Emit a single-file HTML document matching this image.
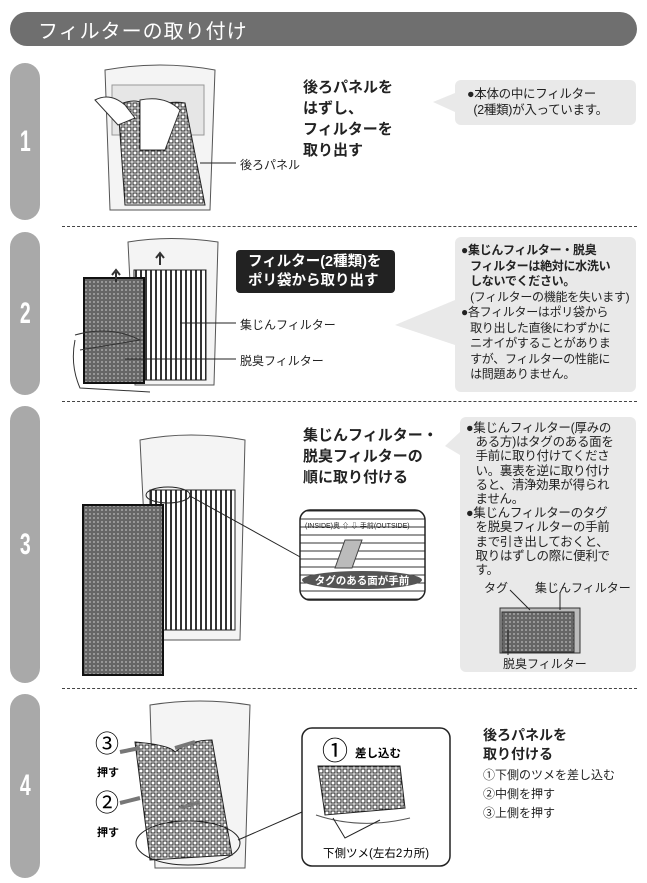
<!DOCTYPE html>
<html><head><meta charset="utf-8"><style>
*{margin:0;padding:0;box-sizing:border-box}
body{width:647px;height:883px;background:#fff;position:relative;overflow:hidden;font-family:"Liberation Sans","Noto Sans CJK JP",sans-serif;color:#222}
.a{position:absolute;z-index:3}
.hdr{left:10px;top:12px;width:627px;height:34px;background:#6f6f6f;border-radius:17px;color:#fff;font-size:20px;padding:3px 0 0 28px;letter-spacing:1px}
.tab{left:10px;width:30px;background:#a9a9a9;border-radius:15px;color:#fff;font-size:30px;font-weight:bold;text-align:center;display:flex;align-items:center;justify-content:center}
.tab span{display:inline-block;transform:scaleX(0.65)}
.dash{left:62px;width:575px;border-top:1px dashed #444}
.h{font-size:15px;font-weight:bold;line-height:21px}
.box{background:#e9e9e9;border-radius:6px;font-size:12px;line-height:16px;white-space:nowrap;letter-spacing:-0.3px}
.bg{z-index:1}
.t12{font-size:12px;white-space:nowrap}
svg{z-index:2}
</style></head><body>
<div class="a hdr">フィルターの取り付け</div>

<div class="a tab" style="top:63px;height:157px"><span>1</span></div>
<div class="a tab" style="top:232px;height:163px"><span>2</span></div>
<div class="a tab" style="top:406px;height:277px"><span>3</span></div>
<div class="a tab" style="top:694px;height:184px"><span>4</span></div>

<div class="a dash" style="top:226px"></div>
<div class="a dash" style="top:401px"></div>
<div class="a dash" style="top:688px"></div>

<div class="a box bg" style="left:455px;top:80px;width:181px;height:45px"></div>
<div class="a box bg" style="left:455px;top:237px;width:181px;height:155px"></div>
<div class="a box bg" style="left:460px;top:417px;width:176px;height:255px"></div>

<svg class="a" style="left:0;top:0" width="647" height="883">
<defs>
<pattern id="g" width="6" height="6" patternUnits="userSpaceOnUse"><rect width="6" height="6" fill="#fff"/><rect x="1" y="1" width="4" height="4" fill="none" stroke="#222" stroke-width="1"/></pattern>
<pattern id="d" width="4" height="4" patternUnits="userSpaceOnUse"><rect width="4" height="4" fill="#666"/><circle cx="2" cy="2" r="0.9" fill="#bbb"/></pattern>
<pattern id="s" width="5" height="5" patternUnits="userSpaceOnUse"><rect width="5" height="5" fill="#fff"/><rect x="0" y="0" width="2" height="5" fill="#333"/></pattern>
<pattern id="ln" width="8" height="8" patternUnits="userSpaceOnUse"><rect width="8" height="8" fill="#fff"/><line x1="0" y1="7" x2="8" y2="7" stroke="#333" stroke-width="1"/></pattern>
</defs>
<path d="M105 70 Q160 60 215 70 L210 210 L110 210 Z" fill="#f4f4f4" stroke="#555"/>
<rect x="112" y="85" width="92" height="50" fill="#e6e6e6" stroke="#999"/>
<path d="M118 105 Q140 95 150 110 Q165 100 185 103 L205 205 L125 205 Z" fill="url(#g)" stroke="#222"/>
<path d="M95 100 Q110 92 125 105 L135 118 L118 125 Z" fill="#fff" stroke="#333"/>
<path d="M140 100 Q165 95 180 110 L165 150 L140 150 Z" fill="#fff" stroke="#333"/>
<line x1="200" y1="163" x2="236" y2="163" stroke="#222"/>
<path d="M455 93 L433 102 L455 112 Z" fill="#e9e9e9"/>
<path d="M455 300 L395 325 L455 345 Z" fill="#e9e9e9"/>
<path d="M460 432 L445 446 L460 455 Z" fill="#e9e9e9"/>
<path d="M128 242 Q170 235 218 242 L214 385 L135 385 Z" fill="#f4f4f4" stroke="#555"/>
<rect x="134" y="270" width="72" height="110" fill="url(#s)" stroke="#222"/>
<rect x="84" y="278" width="60" height="105" fill="url(#d)" stroke="#111" stroke-width="2"/>
<path d="M75 335 Q110 325 140 340 Q110 345 80 350" fill="none" stroke="#333"/>
<path d="M75 340 Q70 365 80 388 L150 392" fill="none" stroke="#333"/>
<path d="M116 282 L116 272 M112 275 L116 270 L120 275 M160 265 L160 254 M156 258 L160 253 L164 258" stroke="#333" stroke-width="2" fill="none"/>
<line x1="180" y1="323" x2="236" y2="323" stroke="#222"/>
<line x1="125" y1="359" x2="236" y2="359" stroke="#222"/>
<path d="M140 440 Q190 430 245 440 L240 640 L150 640 Z" fill="#f4f4f4" stroke="#555"/>
<rect x="150" y="490" width="85" height="140" fill="url(#s)" stroke="#222"/>
<rect x="83" y="505" width="80" height="170" fill="url(#d)" stroke="#111" stroke-width="2"/>
<ellipse cx="168" cy="495" rx="22" ry="8" fill="none" stroke="#222"/>
<line x1="190" y1="496" x2="302" y2="558" stroke="#222"/>
<rect x="300" y="510" width="125" height="90" rx="10" fill="url(#ln)" stroke="#222" stroke-width="1.5"/>
<polygon points="345,540 362,540 352,568 335,568" fill="#bbb" stroke="#444"/>
<text x="305" y="528" font-size="7" fill="#222">(INSIDE)奥 ⇧ ⇩ 手前(OUTSIDE)</text>
<ellipse cx="362" cy="580" rx="60" ry="9" fill="#555"/>
<text x="362" y="584" font-size="10.5" font-weight="bold" fill="#fff" text-anchor="middle">タグのある面が手前</text>
<rect x="500" y="608" width="80" height="45" fill="#bbb" stroke="#333"/>
<rect x="502" y="612" width="72" height="40" fill="url(#d)" stroke="#333"/>
<line x1="510" y1="590" x2="530" y2="610" stroke="#222"/>
<line x1="560" y1="592" x2="560" y2="610" stroke="#222"/>
<line x1="508" y1="630" x2="508" y2="655" stroke="#222"/>
<path d="M150 705 Q200 697 250 705 L245 868 L155 868 Z" fill="#f4f4f4" stroke="#555"/>
<path d="M135 742 Q170 745 175 752 Q190 740 212 740 L232 855 L150 860 Z" fill="url(#g)" stroke="#222"/>
<ellipse cx="188" cy="843" rx="52" ry="22" fill="none" stroke="#222"/>
<line x1="238" y1="840" x2="302" y2="812" stroke="#222"/>
<path d="M120 752 L140 748 M120 803 L140 798 M175 748 L195 742 M180 808 L200 802" stroke="#777" stroke-width="4"/>
<text x="95" y="752" font-size="24">③</text>
<text x="95" y="811" font-size="24">②</text>
<text x="97" y="776" font-size="11" font-weight="bold">押す</text>
<text x="97" y="836" font-size="11" font-weight="bold">押す</text>
<rect x="302" y="728" width="148" height="138" rx="10" fill="#fff" stroke="#222" stroke-width="1.5"/>
<path d="M318 766 L400 766 L405 808 L325 815 Z" fill="url(#g)" stroke="#222"/>
<path d="M316 815 Q360 830 410 818" fill="none" stroke="#555"/>
<path d="M333 818 L345 838 L380 820" fill="none" stroke="#222"/>
<text x="322" y="760" font-size="26">①</text>
<text x="355" y="757" font-size="11.5" font-weight="bold">差し込む</text>
<text x="323" y="857" font-size="11.5">下側ツメ(左右2カ所)</text>
</svg>

<div class="a h" style="left:303px;top:77px">後ろパネルを<br>はずし、<br>フィルターを<br>取り出す</div>
<div class="a t12" style="left:240px;top:156px">後ろパネル</div>
<div class="a box" style="left:455px;top:80px;width:181px;height:45px;padding:6px 0 0 12px;background:none;font-size:12.5px">●本体の中にフィルター<br>&nbsp;&nbsp;(2種類)が入っています。</div>

<div class="a" style="left:236px;top:250px;width:159px;height:43px;background:#222;border-radius:4px;color:#fff;font-weight:bold;font-size:14.5px;line-height:19px;padding:3px 0 0 12px;white-space:nowrap">フィルター(2種類)を<br>ポリ袋から取り出す</div>
<div class="a t12" style="left:240px;top:316px">集じんフィルター</div>
<div class="a t12" style="left:240px;top:352px">脱臭フィルター</div>
<div class="a box" style="left:455px;top:237px;width:181px;height:155px;padding:6px 0 0 6px;background:none;line-height:15.5px"><b>●集じんフィルター・脱臭<br>&nbsp;&nbsp;&nbsp;フィルターは絶対に水洗い<br>&nbsp;&nbsp;&nbsp;しないでください。</b><br>&nbsp;&nbsp;&nbsp;(フィルターの機能を失います)<br>●各フィルターはポリ袋から<br>&nbsp;&nbsp;&nbsp;取り出した直後にわずかに<br>&nbsp;&nbsp;&nbsp;ニオイがすることがありま<br>&nbsp;&nbsp;&nbsp;すが、フィルターの性能に<br>&nbsp;&nbsp;&nbsp;は問題ありません。</div>

<div class="a h" style="left:303px;top:425px">集じんフィルター・<br>脱臭フィルターの<br>順に取り付ける</div>
<div class="a box" style="left:460px;top:417px;width:176px;height:160px;padding:4px 0 0 6px;font-size:12.5px;line-height:14.2px;background:none">●集じんフィルター(厚みの<br>&nbsp;&nbsp;&nbsp;ある方)はタグのある面を<br>&nbsp;&nbsp;&nbsp;手前に取り付けてくださ<br>&nbsp;&nbsp;&nbsp;い。裏表を逆に取り付け<br>&nbsp;&nbsp;&nbsp;ると、清浄効果が得られ<br>&nbsp;&nbsp;&nbsp;ません。<br>●集じんフィルターのタグ<br>&nbsp;&nbsp;&nbsp;を脱臭フィルターの手前<br>&nbsp;&nbsp;&nbsp;まで引き出しておくと、<br>&nbsp;&nbsp;&nbsp;取りはずしの際に便利で<br>&nbsp;&nbsp;&nbsp;す。</div>
<div class="a t12" style="left:484px;top:579px">タグ</div>
<div class="a t12" style="left:535px;top:579px">集じんフィルター</div>
<div class="a t12" style="left:503px;top:655px">脱臭フィルター</div>

<div class="a" style="left:483px;top:726px;font-size:14px;font-weight:bold;line-height:19px">後ろパネルを<br>取り付ける</div>
<div class="a t12" style="left:483px;top:766px;line-height:19px">①下側のツメを差し込む<br>②中側を押す<br>③上側を押す</div>
</body></html>
